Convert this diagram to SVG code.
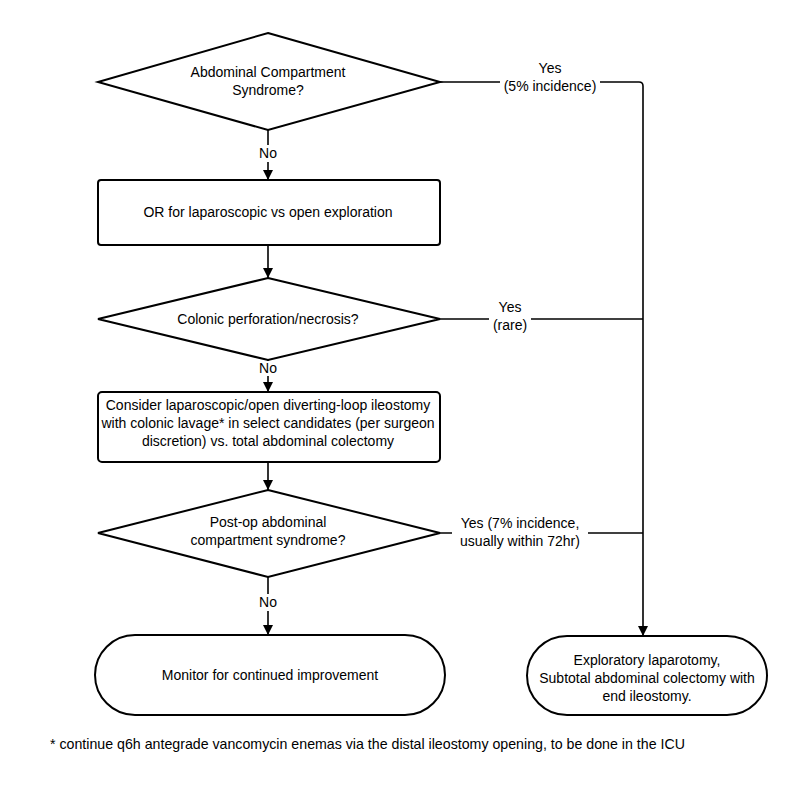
<svg xmlns="http://www.w3.org/2000/svg" width="800" height="809" viewBox="0 0 800 809">
<defs>
<marker id="ah" viewBox="0 0 10 10" refX="10" refY="5" markerWidth="10" markerHeight="10" markerUnits="userSpaceOnUse" orient="auto"><path d="M0,0 L10,5 L0,10 z" fill="#000"/></marker>
<style>
.s{fill:#fff;stroke:#000;stroke-width:2}
.c{fill:none;stroke:#000;stroke-width:1.6}
.t{font-family:"Liberation Sans",Arial,sans-serif;font-size:14px;fill:#000;text-anchor:middle}
.lb{fill:#fff;stroke:none}
</style>
</defs>
<rect width="800" height="809" fill="#fff"/>
<g id="connectors">
<path class="c" d="M268,130 V180" marker-end="url(#ah)"/>
<path class="c" d="M268,245 V278" marker-end="url(#ah)"/>
<path class="c" d="M268,360 V392" marker-end="url(#ah)"/>
<path class="c" d="M268,462 V490" marker-end="url(#ah)"/>
<path class="c" d="M268,577 V635" marker-end="url(#ah)"/>
<path class="c" d="M440,82 H639 Q643,82 643,86 V636" marker-end="url(#ah)"/>
<path class="c" d="M440,319 H643"/>
<path class="c" d="M440,533 H643"/>
<rect class="lb" x="255" y="145" width="26" height="17"/>
<text class="t" x="268" y="158">No</text>
<rect class="lb" x="255" y="361" width="26" height="15"/>
<text class="t" x="268" y="373">No</text>
<rect class="lb" x="255" y="594" width="26" height="17"/>
<text class="t" x="268" y="607">No</text>
<rect class="lb" x="500" y="60" width="100" height="36"/>
<text class="t" x="550" y="73">Yes</text>
<text class="t" x="550" y="91">(5% incidence)</text>
<rect class="lb" x="489" y="298" width="42" height="36"/>
<text class="t" x="510" y="312">Yes</text>
<text class="t" x="510" y="330">(rare)</text>
<rect class="lb" x="452" y="514" width="136" height="36"/>
<text class="t" x="520" y="528">Yes (7% incidence,</text>
<text class="t" x="520" y="546">usually within 72hr)</text>
</g>
<g id="n1">
<polygon class="s" points="268,33 440,82 268,130 98,82"/>
<text class="t" x="268" y="77">Abdominal Compartment</text>
<text class="t" x="268" y="95">Syndrome?</text>
</g>
<g id="n2">
<rect class="s" x="98" y="180" width="342" height="65" rx="3"/>
<text class="t" x="268" y="217">OR for laparoscopic vs open exploration</text>
</g>
<g id="n3">
<polygon class="s" points="268,278 440,319 268,360 98,319"/>
<text class="t" x="268" y="324">Colonic perforation/necrosis?</text>
</g>
<g id="n4">
<rect class="s" x="98" y="392" width="342" height="70" rx="4"/>
<text class="t" x="268" y="410">Consider laparoscopic/open diverting-loop ileostomy</text>
<text class="t" x="268" y="428">with colonic lavage* in select candidates (per surgeon</text>
<text class="t" x="268" y="446">discretion) vs. total abdominal colectomy</text>
</g>
<g id="n5">
<polygon class="s" points="268,490 440,533 268,577 98,533"/>
<text class="t" x="268" y="527">Post-op abdominal</text>
<text class="t" x="268" y="545">compartment syndrome?</text>
</g>
<g id="n6">
<rect class="s" x="95" y="635" width="350" height="80" rx="40" ry="40"/>
<text class="t" x="270" y="680">Monitor for continued improvement</text>
</g>
<g id="n7">
<rect class="s" x="527" y="636" width="240" height="79" rx="40" ry="39.5"/>
<text class="t" x="647" y="665">Exploratory laparotomy,</text>
<text class="t" x="647" y="683">Subtotal abdominal colectomy with</text>
<text class="t" x="647" y="701">end ileostomy.</text>
</g>
<text x="50" y="749" style="font-family:'Liberation Sans',Arial,sans-serif;font-size:14.2px">* continue q6h antegrade vancomycin enemas via the distal ileostomy opening, to be done in the ICU</text>
</svg>
